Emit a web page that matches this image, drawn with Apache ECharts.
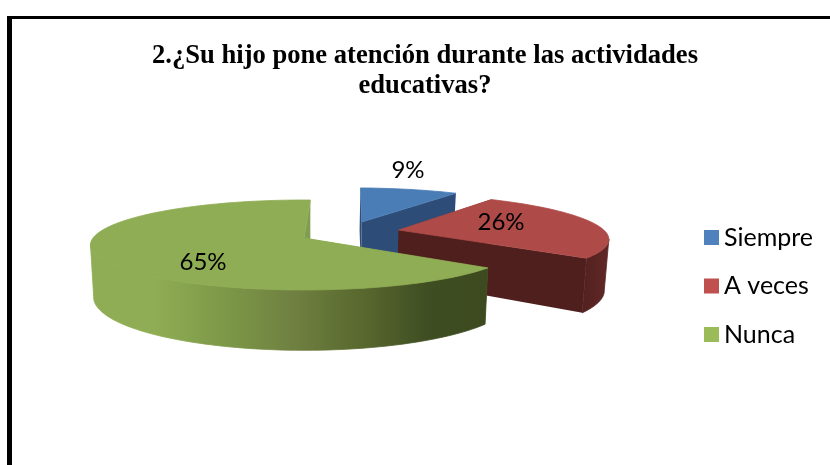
<!DOCTYPE html>
<html>
<head>
<meta charset="utf-8">
<style>html,body{margin:0;padding:0;background:#fff}#c{width:830px;height:465px}</style>
<script src="https://cdn.jsdelivr.net/npm/echarts@6/dist/echarts.min.js"></script>
</head>
<body>
<div id="c"></div>
<script>
var titleText = '2.¿Su hijo pone atención durante las actividades\neducativas?';
var categories = ['Siempre', 'A veces', 'Nunca'];
var values = [9, 26, 65];

var legendColors = ['#4f81bd', '#c0504d', '#9bbb59'];
var topColors = ['#4a7cb6', '#ae4a47', '#8fad54'];
var faceColors = ['#2d4c78', '#4f1f1e', '#7f9e4f'];
var P = {cx: 304, cy: 238, rx: 211, ry: 43.9, k: 0.155, h: 51, shrink: 0.985, startDeg: 2};
var explode = [[0.29, -0.386], [0.462, -0.187], [0, 0]];
var labelPos = [[408, 170], [501, 222], [203, 262]];
var sideFill = [
  faceColors[0],
  {type: 'linear', global: true, x: 400, y: 0, x2: 606, y2: 0, colorStops: [{offset: 0, color: '#4f1f1e'}, {offset: 0.85, color: '#4f1f1e'}, {offset: 1, color: '#5e2725'}]},
  {type: 'linear', global: true, x: 90, y: 0, x2: 488, y2: 0, colorStops: [
    {offset: 0, color: '#8fad54'}, {offset: 0.16, color: '#8fad54'}, {offset: 0.35, color: '#7c9747'},
    {offset: 0.52, color: '#6e7f40'}, {offset: 0.7, color: '#56662d'}, {offset: 0.85, color: '#3f4d22'}, {offset: 1, color: '#3d4a20'}
  ]}
];

function project(u, v, bottom) {
  var w = 1 / (1 - P.k * v);
  var x = P.rx * u * w, y = P.ry * v * w;
  if (bottom) return [P.cx + x * P.shrink, P.cy + y + P.h * w];
  return [P.cx + x, P.cy + y];
}
function total() { return values.reduce(function (a, b) { return a + b; }, 0); }
function sliceAngles(i) {
  var before = 0;
  for (var j = 0; j < i; j++) before += values[j];
  return [P.startDeg + before / total() * 360, P.startDeg + (before + values[i]) / total() * 360];
}
function ringPoints(i, bottom) {
  var a = sliceAngles(i), e = explode[i], pts = [];
  var n = Math.ceil((a[1] - a[0]) / 2);
  for (var s = 0; s <= n; s++) {
    var t = (a[0] + (a[1] - a[0]) * s / n) * Math.PI / 180;
    pts.push(project(Math.sin(t) + e[0], -Math.cos(t) + e[1], bottom));
  }
  return pts;
}
function poly(points, fill, edge) {
  return {type: 'polygon', shape: {points: points}, silent: true,
          style: {fill: fill, stroke: edge ? fill : null, lineWidth: edge ? 0.8 : 0}};
}
function makeRender(i) {
  return function () {
    var e = explode[i];
    var topRing = ringPoints(i, false), botRing = ringPoints(i, true);
    var apexT = project(e[0], e[1], false), apexB = project(e[0], e[1], true);
    var last = topRing.length - 1;
    var children = [
      poly([apexT, topRing[0], botRing[0], apexB], faceColors[i]),
      poly([apexT, topRing[last], botRing[last], apexB], faceColors[i])
    ];
    // front-facing part of the rim: from the rightmost to the leftmost rim point
    var iMax = 0, iMin = 0;
    topRing.forEach(function (p, s) {
      if (p[0] > topRing[iMax][0]) iMax = s;
      if (p[0] < topRing[iMin][0]) iMin = s;
    });
    var end = iMin < iMax ? last : iMin;
    if (end > iMax) {
      children.push(poly(topRing.slice(iMax, end + 1).concat(botRing.slice(iMax, end + 1).reverse()), sideFill[i], true));
    }
    children.push(poly([apexT].concat(topRing), topColors[i], true));
    children.push({type: 'text', x: labelPos[i][0], y: labelPos[i][1], silent: true,
      style: {text: values[i] + '%', fill: '#000', font: '24px Lato', align: 'center', verticalAlign: 'middle'}});
    return {type: 'group', children: children};
  };
}

var chart = echarts.init(document.getElementById('c'), null, {renderer: 'canvas'});
chart.setOption({
  animation: false,
  backgroundColor: '#ffffff',
  title: {
    text: titleText, left: 420, top: 36, textAlign: 'center',
    textStyle: {fontFamily: 'Liberation Serif', fontWeight: 'bold', fontSize: 26.6, lineHeight: 30, color: '#000'}
  },
  legend: {
    orient: 'vertical', left: 704, top: 223, itemWidth: 15, itemHeight: 15, itemGap: 19.5, icon: 'rect', padding: 0,
    selectedMode: false,
    textStyle: {fontFamily: 'Lato', fontSize: 25, lineHeight: 29, color: '#000', padding: [0, 0, 0, 0]},
    data: categories.map(function (c, i) { return {name: c, itemStyle: {color: legendColors[i]}}; })
  },
  graphic: [
    {type: 'rect', shape: {x: 7, y: 16, width: 823, height: 3}, style: {fill: '#000'}, silent: true},
    {type: 'rect', shape: {x: 7, y: 16, width: 5, height: 449}, style: {fill: '#000'}, silent: true}
  ],
  series: categories.map(function (c, i) {
    return {
      type: 'custom', name: c, coordinateSystem: 'none',
      itemStyle: {color: legendColors[i]},
      data: [values[i]],
      renderItem: makeRender(i), z: 2 + i
    };
  })
});
</script>
</body>
</html>
